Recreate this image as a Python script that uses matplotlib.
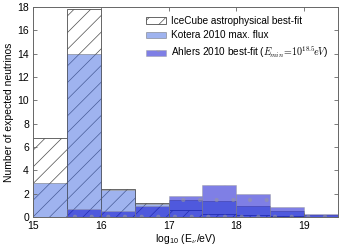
import numpy as np
import matplotlib
matplotlib.use('Agg')
import matplotlib.pyplot as plt

# bin edges in log10(E/eV)
bin_edges = [15.0, 15.5, 16.0, 16.5, 17.0, 17.5, 18.0, 18.5, 19.0, 19.5]

# expected neutrinos per bin
icecube = [6.75, 17.8, 2.43, 1.17, 0.57, 0.23, 0.15, 0.05, 0.02]
kotera = [2.88, 14.0, 2.33, 1.10, 1.46, 1.40, 0.97, 0.51, 0.20]
ahlers = [0.02, 0.66, 0.51, 0.90, 1.83, 2.77, 2.00, 0.85, 0.25]

labels = ['IceCube astrophysical best-fit',
          'Kotera 2010 max. flux',
          r'Ahlers 2010 best-fit ($E_{\!min}\!=\!10^{18.5}\!eV$)']

plt.rcParams['font.family'] = ['Liberation Sans', 'DejaVu Sans']
plt.rcParams['mathtext.fontset'] = 'cm'
plt.rcParams['hatch.linewidth'] = 0.5

fig = plt.figure(figsize=(3.41, 2.49), dpi=100)
ax = fig.add_axes([0.097, 0.129, 0.894, 0.843])

centers = np.array(bin_edges[:-1]) + 0.25

ax.hist(centers, bins=bin_edges, weights=icecube, histtype='bar',
        facecolor='white', edgecolor='0.3', hatch='//', linewidth=0.6,
        label=labels[0])
ax.hist(centers, bins=bin_edges, weights=kotera, histtype='bar',
        facecolor='royalblue', alpha=0.5, edgecolor='0.35', linewidth=0.6,
        label=labels[1])
ax.hist(centers, bins=bin_edges, weights=ahlers, histtype='bar',
        facecolor='mediumblue', alpha=0.5, edgecolor='0.6', hatch='.',
        linewidth=0.6, label=labels[2])

ax.set_xlim(15, 19.5)
ax.set_ylim(0, 18)
ax.set_xticks([15, 16, 17, 18, 19])
ax.set_yticks(range(0, 19, 2))
ax.tick_params(direction='in', top=True, right=True, length=3, width=0.6,
               color='0.4', labelsize=7.5, pad=3)
for s in ax.spines.values():
    s.set_color('0.4')
    s.set_linewidth(0.7)

ax.set_xlabel(r'log$_{\mathregular{10}}$ (E$_\nu$/eV)', fontsize=7.5, labelpad=1)
ax.set_ylabel('Number of expected neutrinos', fontsize=7.5, labelpad=2)

ax.legend(loc='upper right', frameon=False, fontsize=7.2,
          handlelength=2.0, handleheight=0.6, borderaxespad=0.5,
          labelspacing=0.45, handletextpad=0.5)

fig.savefig('out.png', dpi=100)
